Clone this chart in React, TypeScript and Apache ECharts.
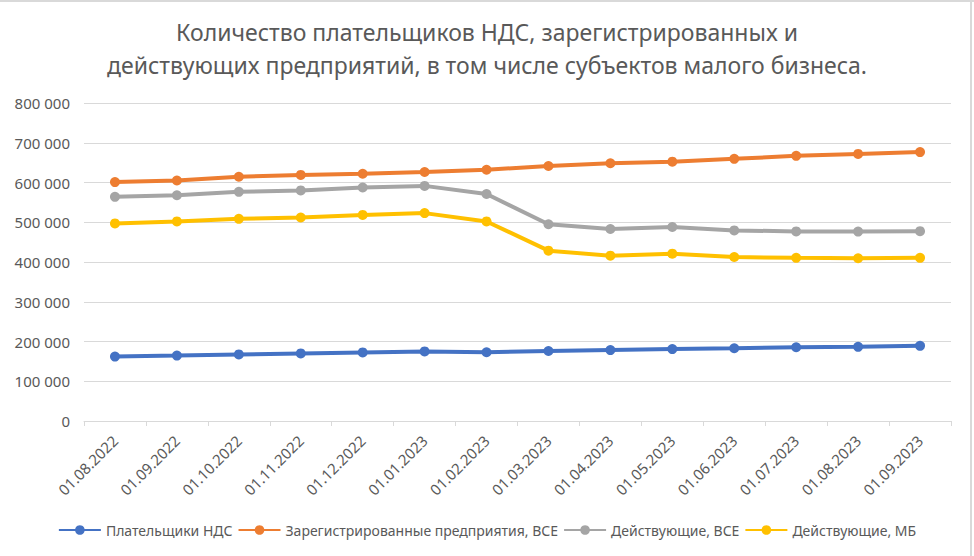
import React, { useEffect, useRef } from "react";
import * as echarts from "echarts";

const titleLines = [
  "Количество плательщиков НДС, зарегистрированных и",
  "действующих предприятий, в том числе субъектов малого бизнеса.",
];

const categories = [
  "01.08.2022", "01.09.2022", "01.10.2022", "01.11.2022", "01.12.2022", "01.01.2023", "01.02.2023",
  "01.03.2023", "01.04.2023", "01.05.2023", "01.06.2023", "01.07.2023", "01.08.2023", "01.09.2023",
];

const seriesNames = [
  "Плательщики НДС",
  "Зарегистрированные предприятия, ВСЕ",
  "Действующие, ВСЕ",
  "Действующие, МБ",
];

const vatPayers = [162000, 164500, 167500, 170000, 172500, 175000, 173000, 176000, 178500, 181000, 183000, 185500, 186500, 189000];
const registeredAll = [601000, 605000, 614500, 619000, 622000, 626500, 632000, 641500, 648500, 652500, 659500, 667000, 672000, 676500];
const activeAll = [564000, 568000, 576500, 580000, 587500, 591500, 571000, 495000, 483000, 488000, 479500, 477000, 476500, 477500];
const activeSmall = [497000, 502000, 508500, 512000, 518500, 523000, 502000, 428500, 416000, 421000, 412500, 410500, 409500, 410500];

const colors = ["#4472C4", "#ED7D31", "#A5A5A5", "#FFC000"];

const yMin = 0;
const yMax = 800000;
const yInterval = 100000;

const font = "Noto Sans, sans-serif";

export default function App() {
  const ref = useRef<HTMLDivElement>(null);
  useEffect(() => {
    if (!ref.current) return;
    const chart = echarts.init(ref.current, undefined, { renderer: "svg" });
    const data = [vatPayers, registeredAll, activeAll, activeSmall];
    chart.setOption({
      animation: false,
      backgroundColor: "#ffffff",
      textStyle: { fontFamily: font },
      title: {
        text: titleLines.join("\n"),
        left: "center",
        top: 10,
        textStyle: {
          fontSize: 23,
          fontWeight: "normal",
          color: "#595959",
          lineHeight: 33,
          fontFamily: font,
        },
      },
      grid: { left: 84, right: 23, top: 103, bottom: 135, containLabel: false },
      legend: {
        bottom: 14,
        left: "center",
        itemWidth: 42,
        itemHeight: 12,
        itemGap: 5,
        textStyle: { fontSize: 14, color: "#595959", fontFamily: font },
        data: seriesNames,
      },
      xAxis: {
        type: "category",
        data: categories,
        boundaryGap: true,
        axisLine: { lineStyle: { color: "#D9D9D9", width: 1 } },
        axisTick: { show: true, alignWithLabel: false, length: 5, lineStyle: { color: "#D9D9D9" } },
        axisLabel: {
          rotate: 45,
          interval: 0,
          fontSize: 15,
          color: "#595959",
          margin: 17,
          fontFamily: font,
        },
      },
      yAxis: {
        type: "value",
        min: yMin,
        max: yMax,
        interval: yInterval,
        axisLine: { show: false },
        axisTick: { show: false },
        splitLine: { lineStyle: { color: "#D9D9D9", width: 1 } },
        axisLabel: {
          fontSize: 15,
          color: "#595959",
          margin: 14,
          fontFamily: font,
          formatter: (v: number) => (v === 0 ? "0" : String(v).replace(/\B(?=(\d{3})+(?!\d))/g, " ")),
        },
      },
      series: seriesNames.map((name, i) => ({
        name,
        type: "line",
        data: data[i],
        symbol: "circle",
        symbolSize: 10,
        lineStyle: { width: 4, color: colors[i] },
        itemStyle: { color: colors[i] },
      })),
      graphic: [
        { type: "line", shape: { x1: 0, y1: 1, x2: 974, y2: 1 }, style: { stroke: "#D9D9D9", lineWidth: 2 } },
        { type: "line", shape: { x1: 971, y1: 0, x2: 971, y2: 556 }, style: { stroke: "#D9D9D9", lineWidth: 2 } },
      ],
    });
    return () => chart.dispose();
  }, []);
  return (
    <div
      ref={ref}
      style={{ position: "fixed", left: 0, top: 0, width: 974, height: 556 }}
    />
  );
}
